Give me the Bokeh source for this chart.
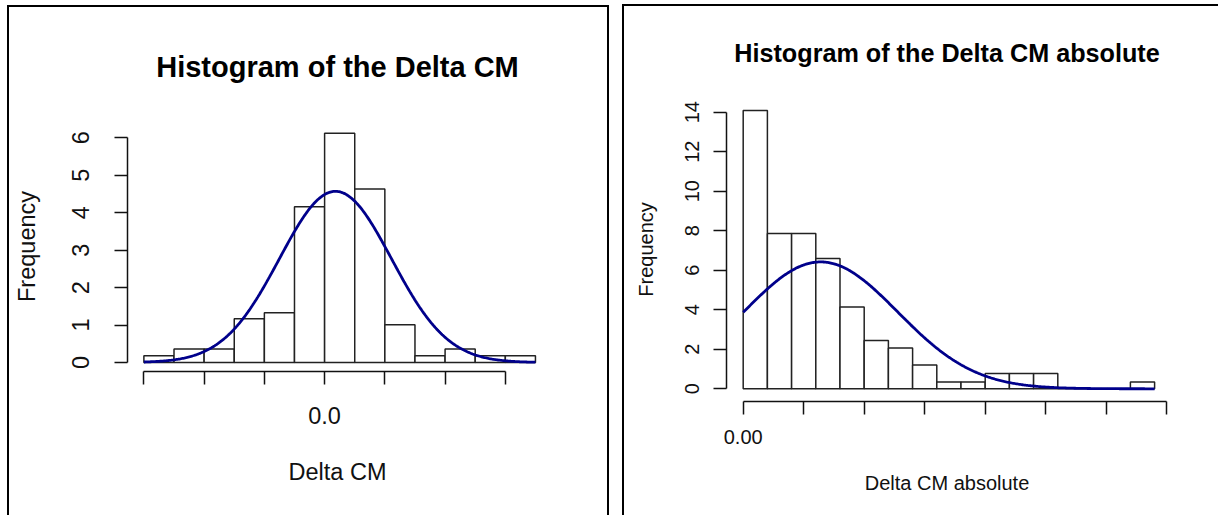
import numpy as np
from bokeh.plotting import figure
from bokeh.models import Range1d, FixedTicker, CustomJSTickFormatter, Title
from bokeh.embed import file_html
from bokeh.resources import INLINE

# ---------------- data ----------------
left_edges = [-0.30, -0.25, -0.20, -0.15, -0.10, -0.05, 0.00, 0.05, 0.10, 0.15, 0.20, 0.25, 0.30, 0.35]
left_counts = [0.18, 0.36, 0.36, 1.17, 1.33, 4.16, 6.12, 4.63, 1.01, 0.18, 0.36, 0.18, 0.18]
left_xticks = [-0.3, -0.2, -0.1, 0.0, 0.1, 0.2, 0.3]
left_yticks = [0, 1, 2, 3, 4, 5, 6]
left_fit = {"mean": 0.018, "sd": 0.093, "peak": 4.57}

right_edges = [0.00, 0.02, 0.04, 0.06, 0.08, 0.10, 0.12, 0.14, 0.16, 0.18,
               0.20, 0.22, 0.24, 0.26, 0.28, 0.30, 0.32, 0.34]
right_counts = [14.08, 7.86, 7.86, 6.59, 4.14, 2.44, 2.06, 1.21, 0.35, 0.35,
                0.78, 0.78, 0.78, 0.0, 0.0, 0.0, 0.35]
right_xticks = [0.00, 0.05, 0.10, 0.15, 0.20, 0.25, 0.30, 0.35]
right_yticks = [0, 2, 4, 6, 8, 10, 12, 14]
right_fit = {"mean": 0.064, "sd": 0.0636, "peak": 6.42}

FONT = "Liberation Sans"
CURVE = "#00008B"
INK = "#111111"


def panel(edges, counts, fit, xticks, yticks, x0label, title, xlabel,
          w, h, mb, xr, yr, base_fs, title_fs, tick_so, xlab_so, ylab_so, title_so,
          shadow, pos):
    p = figure(width=w, height=h, output_backend="svg", toolbar_location=None,
               x_range=Range1d(*xr), y_range=Range1d(*yr),
               min_border_left=mb[0], min_border_right=mb[1],
               min_border_top=mb[2], min_border_bottom=mb[3],
               background_fill_color=None, border_fill_color=None,
               outline_line_color=None,
               styles={"box-shadow": shadow, "position": "absolute",
                       "left": f"{pos[0]}px", "top": f"{pos[1]}px"})
    p.grid.visible = False
    t = Title(text=title, align="center", text_font=FONT, text_font_size=f"{title_fs}px",
              text_font_style="bold", text_color="#000000", standoff=title_so)
    p.add_layout(t, "above")

    p.quad(left=edges[:-1], right=edges[1:], bottom=0, top=counts,
           fill_color="white", line_color="#222222", line_width=1.5)

    xs = np.linspace(edges[0], edges[-1], 400)
    ys = fit["peak"] * np.exp(-0.5 * ((xs - fit["mean"]) / fit["sd"]) ** 2)
    p.line(xs, ys, line_color=CURVE, line_width=2.8)

    for ax in (p.xaxis[0], p.yaxis[0]):
        ax.axis_line_color = INK
        ax.axis_line_width = 1.5
        ax.major_tick_line_color = INK
        ax.major_tick_line_width = 1.5
        ax.major_tick_in = 0
        ax.major_tick_out = 13
        ax.minor_tick_line_color = None
        ax.major_label_text_font = FONT
        ax.major_label_text_font_size = f"{base_fs}px"
        ax.major_label_text_color = INK
        ax.axis_label_text_font = FONT
        ax.axis_label_text_font_size = f"{base_fs}px"
        ax.axis_label_text_font_style = "normal"
        ax.axis_label_text_color = INK

    xa = p.xaxis[0]
    xa.ticker = FixedTicker(ticks=xticks)
    xa.bounds = (xticks[0], xticks[-1])
    xa.formatter = CustomJSTickFormatter(
        args={"lab": x0label},
        code="return Math.abs(tick) < 1e-9 ? lab : '';")
    xa.major_label_standoff = tick_so[0]
    xa.axis_label = xlabel
    xa.axis_label_standoff = xlab_so

    ya = p.yaxis[0]
    ya.ticker = FixedTicker(ticks=yticks)
    ya.bounds = (yticks[0], yticks[-1])
    ya.major_label_orientation = "vertical"
    ya.major_label_standoff = tick_so[1]
    ya.axis_label = "Frequency"
    ya.axis_label_standoff = ylab_so
    return p


p1 = panel(left_edges, left_counts, left_fit, left_xticks, left_yticks, "0.0",
           "Histogram of the Delta CM", "Delta CM",
           w=602, h=510, mb=(120, 62, 116, 144),
           xr=(-0.3272, 0.3700), yr=(-0.240, 6.435),
           base_fs=23.5, title_fs=29, tick_so=(22, 25), xlab_so=32, ylab_so=30,
           title_so=77,
           shadow="inset 2px 0 0 0 #000, inset -2px 0 0 0 #000, inset 0 2px 0 0 #000",
           pos=(7, 5))

p2 = panel(right_edges, right_counts, right_fit, right_xticks, right_yticks, "0.00",
           "Histogram of the Delta CM absolute", "Delta CM absolute",
           w=596, h=511, mb=(104, 51, 93, 114),
           xr=(-0.0138, 0.35066), yr=(-0.643, 14.74),
           base_fs=20, title_fs=25.2, tick_so=(15, 14), xlab_so=25, ylab_so=26,
           title_so=61,
           shadow="inset 2px 0 0 0 #000, inset 0 2px 0 0 #000",
           pos=(622, 4))

open("out.html", "w").write(file_html([p1, p2], INLINE))
